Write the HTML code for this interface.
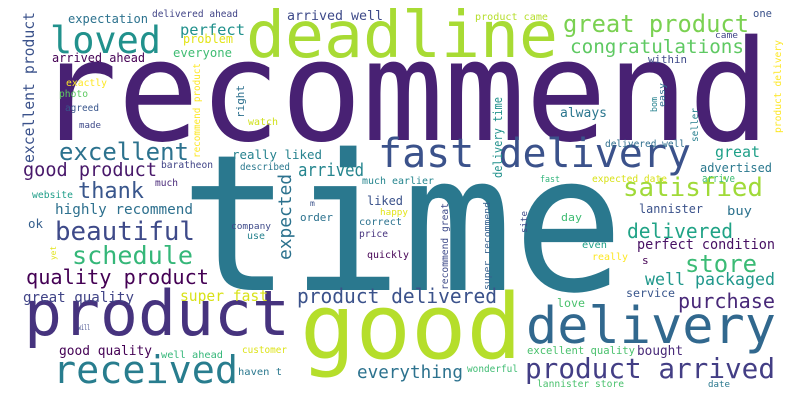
<!DOCTYPE html>
<html><head><meta charset="utf-8"><style>
html,body{margin:0;padding:0;background:#fff;}
svg{display:block;}
text{font-family:"DejaVu Sans Mono","Liberation Mono",monospace;}
</style></head><body>
<svg width="800" height="400" viewBox="0 0 800 400" lengthAdjust="spacingAndGlyphs">
<g>
<text x="36" y="140" font-size="140" fill="#482173" textLength="734" lengthAdjust="spacingAndGlyphs">recommend</text>
<text x="180" y="290" font-size="190" fill="#2a788e" textLength="444" lengthAdjust="spacingAndGlyphs">time</text>
<text x="246" y="57" font-size="64" fill="#a8db34" textLength="312" lengthAdjust="spacingAndGlyphs">deadline</text>
<text x="24" y="335" font-size="62" fill="#46337e" textLength="266" lengthAdjust="spacingAndGlyphs">product</text>
<text x="300" y="358" font-size="90" fill="#b5de2b" textLength="222" lengthAdjust="spacingAndGlyphs">good</text>
<text x="526" y="343" font-size="51" fill="#31688e" textLength="250" lengthAdjust="spacingAndGlyphs">delivery</text>
<text x="378" y="167" font-size="40" fill="#3b528b" textLength="313" lengthAdjust="spacingAndGlyphs">fast delivery</text>
<text x="53" y="383" font-size="38" fill="#287d8e" textLength="185" lengthAdjust="spacingAndGlyphs">received</text>
<text x="525" y="378" font-size="28" fill="#433e85" textLength="250" lengthAdjust="spacingAndGlyphs">product arrived</text>
<text x="50" y="53" font-size="37" fill="#21918c" textLength="111" lengthAdjust="spacingAndGlyphs">loved</text>
<text x="563" y="32" font-size="24" fill="#7ad151" textLength="186" lengthAdjust="spacingAndGlyphs">great product</text>
<text x="570" y="53" font-size="19" fill="#5ec962" textLength="174" lengthAdjust="spacingAndGlyphs">congratulations</text>
<text x="59" y="160" font-size="24" fill="#2c728e" textLength="130" lengthAdjust="spacingAndGlyphs">excellent</text>
<text x="23" y="176" font-size="19" fill="#48186a" textLength="134" lengthAdjust="spacingAndGlyphs">good product</text>
<text x="78" y="198" font-size="22" fill="#39568c" textLength="66" lengthAdjust="spacingAndGlyphs">thank</text>
<text x="298" y="176" font-size="18" fill="#25858e" textLength="66" lengthAdjust="spacingAndGlyphs">arrived</text>
<text x="55" y="240" font-size="26" fill="#3e4a89" textLength="140" lengthAdjust="spacingAndGlyphs">beautiful</text>
<text x="72" y="264" font-size="25" fill="#35b779" textLength="121" lengthAdjust="spacingAndGlyphs">schedule</text>
<text x="26" y="284" font-size="20" fill="#440154" textLength="183" lengthAdjust="spacingAndGlyphs">quality product</text>
<text x="23" y="302" font-size="14" fill="#414487" textLength="111" lengthAdjust="spacingAndGlyphs">great quality</text>
<text x="55" y="214" font-size="14" fill="#2d708e" textLength="138" lengthAdjust="spacingAndGlyphs">highly recommend</text>
<text x="28" y="228" font-size="12" fill="#355f8d" textLength="15" lengthAdjust="spacingAndGlyphs">ok</text>
<text x="59" y="355" font-size="13" fill="#440154" textLength="93" lengthAdjust="spacingAndGlyphs">good quality</text>
<text x="180" y="301" font-size="15" fill="#d8e219" textLength="88" lengthAdjust="spacingAndGlyphs">super fast</text>
<text x="297" y="303" font-size="20" fill="#3b528b" textLength="200" lengthAdjust="spacingAndGlyphs">product delivered</text>
<text transform="translate(291,260) rotate(-90)" font-size="18" fill="#2c728e" textLength="86" lengthAdjust="spacingAndGlyphs">expected</text>
<text x="357" y="378" font-size="18" fill="#2c728e" textLength="106" lengthAdjust="spacingAndGlyphs">everything</text>
<text x="623" y="196" font-size="26" fill="#a0da39" textLength="140" lengthAdjust="spacingAndGlyphs">satisfied</text>
<text x="627" y="238" font-size="20" fill="#20a386" textLength="106" lengthAdjust="spacingAndGlyphs">delivered</text>
<text x="685" y="272" font-size="24" fill="#3bbb75" textLength="72" lengthAdjust="spacingAndGlyphs">store</text>
<text x="645" y="285" font-size="17" fill="#1f978b" textLength="130" lengthAdjust="spacingAndGlyphs">well packaged</text>
<text x="678" y="308" font-size="20" fill="#482878" textLength="97" lengthAdjust="spacingAndGlyphs">purchase</text>
<text x="637" y="249" font-size="14" fill="#471063" textLength="138" lengthAdjust="spacingAndGlyphs">perfect condition</text>
<text x="715" y="157" font-size="15" fill="#1fa088" textLength="45" lengthAdjust="spacingAndGlyphs">great</text>
<text x="700" y="172" font-size="12" fill="#2a788e" textLength="72" lengthAdjust="spacingAndGlyphs">advertised</text>
<text x="702" y="182" font-size="11" fill="#3fbc73" textLength="33" lengthAdjust="spacingAndGlyphs">arrive</text>
<text x="592" y="182" font-size="10" fill="#d8e219" textLength="75" lengthAdjust="spacingAndGlyphs">expected date</text>
<text x="540" y="182" font-size="9" fill="#31b57b" textLength="20" lengthAdjust="spacingAndGlyphs">fast</text>
<text x="605" y="147" font-size="10" fill="#2e6e8e" textLength="80" lengthAdjust="spacingAndGlyphs">delivered well</text>
<text x="560" y="117" font-size="13" fill="#2a768e" textLength="47" lengthAdjust="spacingAndGlyphs">always</text>
<text x="648" y="63" font-size="11" fill="#3e4989" textLength="39" lengthAdjust="spacingAndGlyphs">within</text>
<text x="715" y="38" font-size="9" fill="#414487" textLength="23" lengthAdjust="spacingAndGlyphs">came</text>
<text x="753" y="17" font-size="11" fill="#3b528b" textLength="19" lengthAdjust="spacingAndGlyphs">one</text>
<text x="475" y="20" font-size="10" fill="#b5de2b" textLength="73" lengthAdjust="spacingAndGlyphs">product came</text>
<text transform="translate(781,133) rotate(-90)" font-size="10" fill="#fde725" textLength="93" lengthAdjust="spacingAndGlyphs">product delivery</text>
<text transform="translate(698,142) rotate(-90)" font-size="10" fill="#277f8e" textLength="34" lengthAdjust="spacingAndGlyphs">seller</text>
<text transform="translate(665,107) rotate(-90)" font-size="9" fill="#2e6e8e" textLength="24" lengthAdjust="spacingAndGlyphs">easy</text>
<text transform="translate(657,112) rotate(-90)" font-size="9" fill="#26828e" textLength="15" lengthAdjust="spacingAndGlyphs">bom</text>
<text transform="translate(502,178) rotate(-90)" font-size="12" fill="#21918c" textLength="81" lengthAdjust="spacingAndGlyphs">delivery time</text>
<text x="68" y="23" font-size="12" fill="#2c728e" textLength="80" lengthAdjust="spacingAndGlyphs">expectation</text>
<text x="152" y="17" font-size="10" fill="#414487" textLength="86" lengthAdjust="spacingAndGlyphs">delivered ahead</text>
<text x="287" y="20" font-size="13" fill="#3e4a89" textLength="96" lengthAdjust="spacingAndGlyphs">arrived well</text>
<text x="180" y="35" font-size="15" fill="#21918c" textLength="65" lengthAdjust="spacingAndGlyphs">perfect</text>
<text x="183" y="43" font-size="12" fill="#e2e418" textLength="50" lengthAdjust="spacingAndGlyphs">problem</text>
<text x="173" y="57" font-size="12" fill="#3fbc73" textLength="59" lengthAdjust="spacingAndGlyphs">everyone</text>
<text x="52" y="62" font-size="12" fill="#440154" textLength="93" lengthAdjust="spacingAndGlyphs">arrived ahead</text>
<text transform="translate(34,163) rotate(-90)" font-size="15" fill="#3b528b" textLength="151" lengthAdjust="spacingAndGlyphs">excellent product</text>
<text x="66" y="86" font-size="10" fill="#fde725" textLength="41" lengthAdjust="spacingAndGlyphs">exactly</text>
<text x="59" y="97" font-size="10" fill="#5ec962" textLength="29" lengthAdjust="spacingAndGlyphs">photo</text>
<text x="65" y="111" font-size="9.5" fill="#39568c" textLength="34" lengthAdjust="spacingAndGlyphs">agreed</text>
<text x="79" y="128" font-size="9" fill="#3e4a89" textLength="22" lengthAdjust="spacingAndGlyphs">made</text>
<text transform="translate(200,158) rotate(-90)" font-size="9.5" fill="#fde725" textLength="95" lengthAdjust="spacingAndGlyphs">recommend product</text>
<text transform="translate(244,118) rotate(-90)" font-size="11" fill="#2d708e" textLength="33" lengthAdjust="spacingAndGlyphs">right</text>
<text x="248" y="125" font-size="10" fill="#d0e11c" textLength="30" lengthAdjust="spacingAndGlyphs">watch</text>
<text x="232" y="159" font-size="12.5" fill="#26828e" textLength="90" lengthAdjust="spacingAndGlyphs">really liked</text>
<text x="161" y="168" font-size="10" fill="#414487" textLength="52" lengthAdjust="spacingAndGlyphs">baratheon</text>
<text x="240" y="170" font-size="9.5" fill="#2a788e" textLength="50" lengthAdjust="spacingAndGlyphs">described</text>
<text x="155" y="186" font-size="9.5" fill="#482878" textLength="23" lengthAdjust="spacingAndGlyphs">much</text>
<text x="362" y="184" font-size="10" fill="#25858e" textLength="72" lengthAdjust="spacingAndGlyphs">much earlier</text>
<text x="32" y="198" font-size="9.5" fill="#1f9e89" textLength="41" lengthAdjust="spacingAndGlyphs">website</text>
<text x="367" y="205" font-size="12" fill="#3b528b" textLength="36" lengthAdjust="spacingAndGlyphs">liked</text>
<text transform="translate(56,260) rotate(-90)" font-size="8" fill="#e2e418" textLength="14" lengthAdjust="spacingAndGlyphs">yet</text>
<text x="78" y="330" font-size="8" fill="#3e4989" textLength="12" lengthAdjust="spacingAndGlyphs">will</text>
<text x="161" y="358" font-size="10" fill="#35b779" textLength="62" lengthAdjust="spacingAndGlyphs">well ahead</text>
<text x="242" y="353" font-size="9.5" fill="#dde318" textLength="45" lengthAdjust="spacingAndGlyphs">customer</text>
<text x="238" y="375" font-size="10" fill="#2a788e" textLength="44" lengthAdjust="spacingAndGlyphs">haven t</text>
<text x="231" y="229" font-size="9" fill="#3e4a89" textLength="40" lengthAdjust="spacingAndGlyphs">company</text>
<text x="247" y="239" font-size="9.5" fill="#26828e" textLength="18" lengthAdjust="spacingAndGlyphs">use</text>
<text x="300" y="221" font-size="11" fill="#2c728e" textLength="33" lengthAdjust="spacingAndGlyphs">order</text>
<text x="310" y="206" font-size="8" fill="#3b528b">m</text>
<text x="380" y="215" font-size="9" fill="#e2e418" textLength="28" lengthAdjust="spacingAndGlyphs">happy</text>
<text x="359" y="225" font-size="10" fill="#2c728e" textLength="43" lengthAdjust="spacingAndGlyphs">correct</text>
<text x="359" y="237" font-size="9.5" fill="#46337e" textLength="29" lengthAdjust="spacingAndGlyphs">price</text>
<text x="367" y="258" font-size="10" fill="#440154" textLength="42" lengthAdjust="spacingAndGlyphs">quickly</text>
<text x="727" y="215" font-size="12" fill="#2c728e" textLength="25" lengthAdjust="spacingAndGlyphs">buy</text>
<text x="639" y="213" font-size="12" fill="#3b528b" textLength="64" lengthAdjust="spacingAndGlyphs">lannister</text>
<text transform="translate(448,290) rotate(-90)" font-size="9.5" fill="#3e4a89" textLength="87" lengthAdjust="spacingAndGlyphs">recommend great</text>
<text transform="translate(490,290) rotate(-90)" font-size="9" fill="#35608d" textLength="88" lengthAdjust="spacingAndGlyphs">super recommend</text>
<text transform="translate(527,233) rotate(-90)" font-size="9" fill="#3e4a89" textLength="22" lengthAdjust="spacingAndGlyphs">site</text>
<text x="561" y="221" font-size="11" fill="#3fbc73" textLength="21" lengthAdjust="spacingAndGlyphs">day</text>
<text x="582" y="248" font-size="10" fill="#1fa088" textLength="25" lengthAdjust="spacingAndGlyphs">even</text>
<text x="592" y="260" font-size="10" fill="#fde725" textLength="36" lengthAdjust="spacingAndGlyphs">really</text>
<text x="642" y="264" font-size="11" fill="#440154">s</text>
<text x="626" y="297" font-size="11.5" fill="#39568c" textLength="49" lengthAdjust="spacingAndGlyphs">service</text>
<text x="557" y="307" font-size="11.5" fill="#4ac16d" textLength="28" lengthAdjust="spacingAndGlyphs">love</text>
<text x="527" y="354" font-size="10.5" fill="#4ac16d" textLength="108" lengthAdjust="spacingAndGlyphs">excellent quality</text>
<text x="637" y="355" font-size="13" fill="#482878" textLength="46" lengthAdjust="spacingAndGlyphs">bought</text>
<text x="467" y="372" font-size="9.5" fill="#3fbc73" textLength="51" lengthAdjust="spacingAndGlyphs">wonderful</text>
<text x="537" y="387" font-size="9.5" fill="#4ac16d" textLength="87" lengthAdjust="spacingAndGlyphs">lannister store</text>
<text x="708" y="387" font-size="9" fill="#2a788e" textLength="22" lengthAdjust="spacingAndGlyphs">date</text>
</g>
</svg>
</body></html>
